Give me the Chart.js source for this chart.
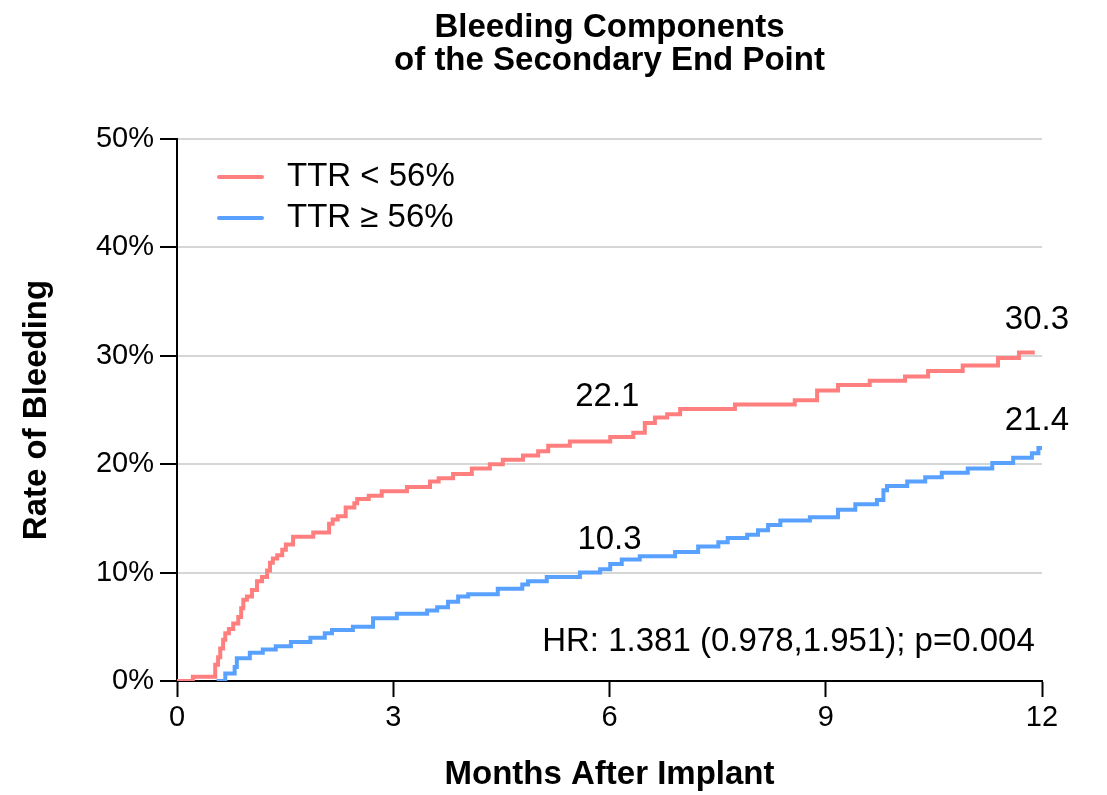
<!DOCTYPE html>
<html>
<head>
<meta charset="utf-8">
<title>Bleeding Components</title>
<script src="https://cdn.jsdelivr.net/npm/chart.js@4/dist/chart.umd.min.js"></script>
<style>
    body { margin: 0; background: #fff; }
    #wrap { width: 1107px; height: 795px; }
</style>
</head>
<body>
<div id="wrap"><canvas id="kmChart"></canvas></div>
<script>
// months after implant / cumulative rate of bleeding (%)
const mesesBaixo = [0, 0.22, 0.53, 0.57, 0.60, 0.64, 0.67, 0.72, 0.78, 0.85, 0.89, 0.92, 0.97, 1.04, 1.11, 1.18, 1.25, 1.29, 1.33, 1.39, 1.46, 1.51, 1.61, 1.89, 2.11, 2.16, 2.23, 2.34, 2.46, 2.50, 2.66, 2.84, 3.19, 3.51, 3.63, 3.83, 4.09, 4.34, 4.52, 4.80, 5.01, 5.15, 5.45, 6.01, 6.33, 6.49, 6.63, 6.80, 6.98, 7.74, 8.57, 8.88, 9.17, 9.61, 10.10, 10.42, 10.90, 11.39, 11.68, 11.90];
const taxaBaixo = [0, 0.4, 1.5, 2.2, 3.0, 3.8, 4.4, 4.8, 5.3, 5.9, 6.7, 7.5, 7.8, 8.4, 9.2, 9.6, 10.2, 10.9, 11.3, 11.6, 12.1, 12.6, 13.3, 13.7, 14.5, 14.9, 15.2, 16.0, 16.4, 16.8, 17.1, 17.5, 17.9, 18.4, 18.7, 19.1, 19.6, 20.0, 20.4, 20.8, 21.2, 21.7, 22.1, 22.5, 22.9, 23.8, 24.3, 24.6, 25.1, 25.5, 25.9, 26.8, 27.3, 27.7, 28.1, 28.6, 29.1, 29.8, 30.3, 30.3];

const mesesAlto = [0.55, 0.67, 0.80, 0.83, 1.01, 1.19, 1.37, 1.58, 1.85, 2.05, 2.15, 2.44, 2.72, 3.05, 3.47, 3.61, 3.76, 3.90, 4.04, 4.45, 4.79, 4.87, 5.13, 5.59, 5.87, 6.01, 6.17, 6.42, 6.91, 7.23, 7.51, 7.64, 7.91, 8.06, 8.20, 8.37, 8.78, 9.17, 9.41, 9.71, 9.80, 9.85, 10.13, 10.38, 10.61, 10.97, 11.31, 11.60, 11.86, 11.95, 12.0];
const taxaAlto = [0, 0.7, 1.3, 2.1, 2.6, 2.9, 3.2, 3.6, 4.0, 4.4, 4.7, 5.0, 5.8, 6.2, 6.5, 6.8, 7.3, 7.8, 8.0, 8.5, 8.9, 9.2, 9.6, 10.0, 10.3, 10.8, 11.2, 11.5, 11.9, 12.4, 12.8, 13.2, 13.5, 13.9, 14.4, 14.8, 15.1, 15.8, 16.3, 16.7, 17.6, 18.0, 18.4, 18.8, 19.2, 19.6, 20.1, 20.6, 21.0, 21.5, 21.5];

const series = ["TTR < 56%", "TTR \u2265 56%"];
const xTicks = [0, 3, 6, 9, 12];
const yTicks = [0, 10, 20, 30, 40, 50];
const hrText = "HR: 1.381 (0.978,1.951); p=0.004";

const FONTE = "'Liberation Sans', Arial, Helvetica, sans-serif";
const vermelho = "#FF7F7F";
const azul = "#59A1FF";

function pontos(xs, ys) {
    const out = [];
    for (let i = 0; i < xs.length; i++) {
        out.push({ x: xs[i], y: ys[i] });
    }
    return out;
}

// legend drawn inside the plot, top left
const legendaPlugin = {
    id: "legendaInterna",
    afterDraw(chart) {
        const ctx = chart.ctx;
        const left = chart.chartArea.left;
        const top = chart.chartArea.top;
        ctx.save();
        ctx.font = `33px ${FONTE}`;
        ctx.textBaseline = "middle";
        ctx.textAlign = "left";
        chart.data.datasets.forEach((ds, i) => {
            const y = top + 38 + i * 41;
            ctx.strokeStyle = ds.borderColor;
            ctx.lineWidth = 4;
            ctx.lineCap = "round";
            ctx.beginPath();
            ctx.moveTo(left + 42, y);
            ctx.lineTo(left + 85, y);
            ctx.stroke();
            ctx.fillStyle = "#000";
            ctx.fillText(ds.label, left + 110, y);
        });
        ctx.restore();
    }
};

// value labels and hazard ratio
const notasPlugin = {
    id: "notas",
    afterDraw(chart) {
        const ctx = chart.ctx;
        const x = chart.scales.x;
        const y = chart.scales.y;
        const ultimoBaixo = taxaBaixo[taxaBaixo.length - 1];
        const ultimoAlto = taxaAlto[taxaAlto.length - 1];
        const em6Baixo = taxaBaixo[mesesBaixo.findIndex(m => m > 6) - 1];
        const em6Alto = taxaAlto[mesesAlto.findIndex(m => m > 6) - 1];

        ctx.save();
        ctx.font = `33px ${FONTE}`;
        ctx.fillStyle = "#000";
        ctx.textBaseline = "middle";
        ctx.textAlign = "center";
        ctx.fillText(ultimoBaixo.toFixed(1), x.getPixelForValue(11.93), y.getPixelForValue(ultimoBaixo) - 33);
        ctx.fillText("21.4", x.getPixelForValue(11.93), y.getPixelForValue(ultimoAlto) - 27);
        ctx.fillText(em6Baixo.toFixed(1), x.getPixelForValue(5.97), y.getPixelForValue(em6Baixo) - 45);
        ctx.fillText(em6Alto.toFixed(1), x.getPixelForValue(6.0), y.getPixelForValue(em6Alto) - 29);
        ctx.textAlign = "right";
        ctx.fillText(hrText, x.getPixelForValue(11.9), y.getPixelForValue(3.6));
        ctx.restore();
    }
};

const ctx = document.getElementById("kmChart");

new Chart(ctx, {
    type: "line",
    data: {
        datasets: [
            {
                label: series[0],
                data: pontos(mesesBaixo, taxaBaixo),
                borderColor: vermelho,
                backgroundColor: vermelho,
                borderWidth: 4,
                stepped: true,
                pointRadius: 0,
                fill: false
            },
            {
                label: series[1],
                data: pontos(mesesAlto, taxaAlto),
                borderColor: azul,
                backgroundColor: azul,
                borderWidth: 4,
                stepped: true,
                pointRadius: 0,
                fill: false
            }
        ]
    },
    options: {
        responsive: true,
        maintainAspectRatio: false,
        animation: false,
        layout: {
            padding: { left: 0, right: 65, top: 0, bottom: 0 }
        },
        plugins: {
            legend: { display: false },
            tooltip: { enabled: false },
            title: {
                display: true,
                fullSize: false,
                text: ["Bleeding Components", "of the Secondary End Point"],
                color: "#000",
                font: { family: FONTE, size: 33, weight: "bold", lineHeight: 1.0 },
                padding: { top: 11, bottom: 62 }
            }
        },
        scales: {
            x: {
                type: "linear",
                min: 0,
                max: 12,
                afterBuildTicks: (scale) => {
                    scale.ticks = xTicks.map(v => ({ value: v }));
                },
                afterFit: (scale) => {
                    scale.height = 114;
                },
                ticks: {
                    color: "#000",
                    font: { family: FONTE, size: 29 },
                    padding: 4,
                    maxRotation: 0
                },
                grid: {
                    drawOnChartArea: false,
                    tickLength: 16,
                    tickColor: "#000",
                    tickWidth: 2
                },
                border: { color: "#000", width: 2 },
                title: {
                    display: true,
                    text: "Months After Implant",
                    color: "#000",
                    font: { family: FONTE, size: 33, weight: "bold" },
                    padding: { top: 0, bottom: 0 }
                }
            },
            y: {
                type: "linear",
                min: 0,
                max: 50,
                afterBuildTicks: (scale) => {
                    scale.ticks = yTicks.map(v => ({ value: v }));
                },
                afterFit: (scale) => {
                    scale.width = 177;
                },
                ticks: {
                    color: "#000",
                    font: { family: FONTE, size: 29 },
                    padding: 6,
                    callback: (v) => v + "%"
                },
                grid: {
                    color: (c) => (c.tick && c.tick.value === 0 ? "rgba(0,0,0,0)" : "#d6d6d6"),
                    lineWidth: 2,
                    tickLength: 17,
                    tickColor: "#000",
                    tickWidth: 2
                },
                border: { color: "#000", width: 2 },
                title: {
                    display: true,
                    text: "Rate of Bleeding",
                    color: "#000",
                    font: { family: FONTE, size: 33, weight: "bold" },
                    padding: { top: 17, bottom: 0 }
                }
            }
        }
    },
    plugins: [legendaPlugin, notasPlugin]
});
</script>
</body>
</html>
